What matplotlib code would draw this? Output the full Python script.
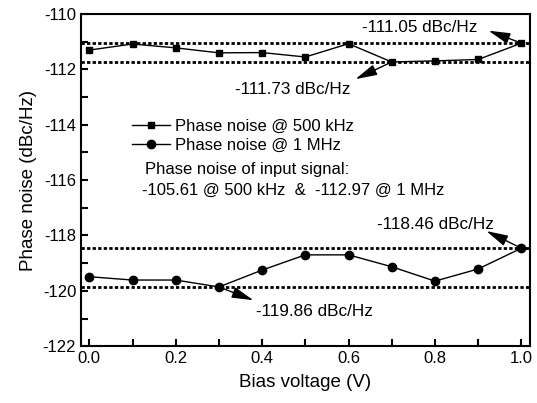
import numpy as np
import matplotlib.pyplot as plt
from matplotlib.ticker import MultipleLocator

plt.rcParams['font.family'] = ['Liberation Sans', 'DejaVu Sans']
plt.rcParams['axes.unicode_minus'] = False

# datos
bias = [0.0, 0.1, 0.2, 0.3, 0.4, 0.5, 0.6, 0.7, 0.8, 0.9, 1.0]
pn_500k = [-111.30, -111.08, -111.22, -111.40, -111.39, -111.55,
           -111.07, -111.73, -111.69, -111.64, -111.05]
pn_1m = [-119.49, -119.61, -119.61, -119.86, -119.25, -118.70,
         -118.70, -119.13, -119.65, -119.21, -118.46]
ref_lines = [-111.05, -111.73, -118.46, -119.86]

fig, ax = plt.subplots(figsize=(5.37, 4.03), dpi=100)
fig.subplots_adjust(left=0.151, right=0.987, top=0.965, bottom=0.141)

for yv in ref_lines:
    ax.axhline(yv, color='black', lw=2, ls=(0, (1.2, 0.8)), zorder=1)

ax.plot(bias, pn_500k, color='black', lw=1, marker='s', ms=5,
        label='Phase noise @ 500 kHz', zorder=3)
ax.plot(bias, pn_1m, color='black', lw=1, marker='o', ms=6,
        label='Phase noise @ 1 MHz', zorder=3)

ax.set_xlim(-0.019, 1.02)
ax.set_ylim(-122, -110)
ax.xaxis.set_major_locator(MultipleLocator(0.2))
ax.xaxis.set_minor_locator(MultipleLocator(0.1))
ax.yaxis.set_major_locator(MultipleLocator(2))
ax.yaxis.set_minor_locator(MultipleLocator(1))
ax.xaxis.set_major_formatter(plt.FormatStrFormatter('%.1f'))
ax.tick_params(which='both', direction='in', length=5, width=1.5, labelsize=12)
for s in ax.spines.values():
    s.set_linewidth(1.5)

ax.set_xlabel('Bias voltage (V)', fontsize=13.5, labelpad=6)
ax.set_ylabel('Phase noise (dBc/Hz)', fontsize=13.5)

arrow = dict(arrowstyle='-|>,head_length=1.1,head_width=0.28', color='black',
             lw=1, mutation_scale=12, shrinkA=0, shrinkB=0)
ax.annotate('', xy=(0.924, -110.6), xytext=(1.0, -111.05), arrowprops=arrow)
ax.annotate('', xy=(0.616, -112.35), xytext=(0.7, -111.73), arrowprops=arrow)
ax.annotate('', xy=(0.919, -117.84), xytext=(1.0, -118.46), arrowprops=arrow)
ax.annotate('', xy=(0.38, -120.34), xytext=(0.3, -119.86), arrowprops=arrow)

fs = 12.3
ax.text(0.764, -110.47, '-111.05 dBc/Hz', fontsize=fs, ha='center', va='center')
ax.text(0.471, -112.73, '-111.73 dBc/Hz', fontsize=fs, ha='center', va='center')
ax.text(0.801, -117.61, '-118.46 dBc/Hz', fontsize=fs, ha='center', va='center')
ax.text(0.521, -120.73, '-119.86 dBc/Hz', fontsize=fs, ha='center', va='center')

ax.legend(loc='upper left', bbox_to_anchor=(0.1136, 0.685), frameon=False,
          fontsize=12, handlelength=2.3, handletextpad=0.3, labelspacing=0.25,
          borderpad=0, borderaxespad=0)
ax.text(0.13, -115.60, 'Phase noise of input signal:', fontsize=12, va='center')
ax.text(0.123, -116.36, '-105.61 @ 500 kHz  &  -112.97 @ 1 MHz', fontsize=12, va='center')

fig.savefig('out.png', dpi=100)
